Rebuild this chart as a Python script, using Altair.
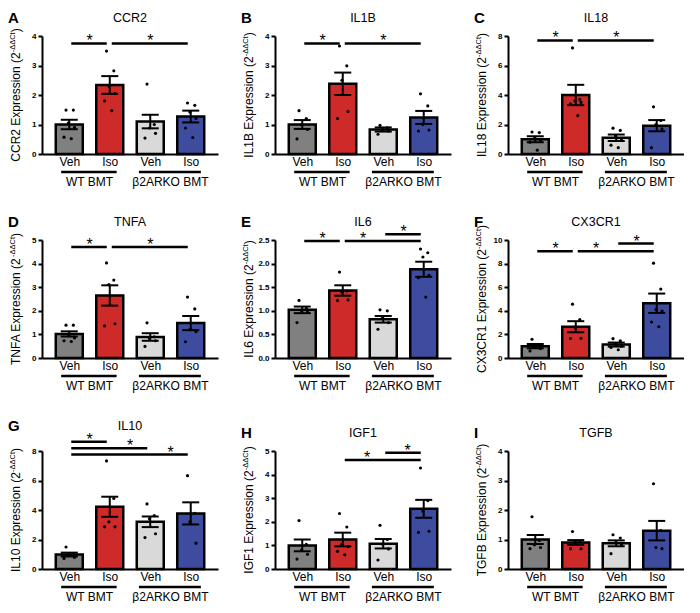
import altair as alt
import pandas as pd
import numpy as np

FONT = "Liberation Sans"

letters = ["A", "B", "C", "D", "E", "F", "G", "H", "I"]
genes = ["CCR2", "IL1B", "IL18", "TNFA", "IL6", "CX3CR1", "IL10", "IGF1", "TGFB"]
x_labels = ["Veh", "Iso", "Veh", "Iso"]
group_labels = ["WT BMT", "β2ARKO BMT"]
bar_colors = ["#808080", "#cf2a2a", "#d9d9d9", "#3e4c9f"]

y_max = {"CCR2": 4, "IL1B": 4, "IL18": 8, "TNFA": 5, "IL6": 2.5,
         "CX3CR1": 10, "IL10": 8, "IGF1": 5, "TGFB": 4}
y_step = {"CCR2": 1, "IL1B": 1, "IL18": 2, "TNFA": 1, "IL6": 0.5,
          "CX3CR1": 2, "IL10": 2, "IGF1": 1, "TGFB": 1}

means = {
    "CCR2": [1.0, 2.34, 1.1, 1.27],
    "IL1B": [1.0, 2.38, 0.83, 1.24],
    "IL18": [1.0, 4.0, 1.1, 1.92],
    "TNFA": [1.02, 2.65, 0.89, 1.48],
    "IL6": [1.02, 1.43, 0.82, 1.88],
    "CX3CR1": [1.0, 2.65, 1.14, 4.64],
    "IL10": [0.98, 4.22, 3.2, 3.77],
    "IGF1": [1.0, 1.25, 1.07, 2.55],
    "TGFB": [1.0, 0.9, 0.87, 1.3],
}
sems = {
    "CCR2": [0.16, 0.3, 0.23, 0.2],
    "IL1B": [0.15, 0.38, 0.07, 0.22],
    "IL18": [0.21, 0.69, 0.22, 0.38],
    "TNFA": [0.11, 0.43, 0.16, 0.3],
    "IL6": [0.07, 0.11, 0.07, 0.16],
    "CX3CR1": [0.18, 0.47, 0.17, 0.82],
    "IL10": [0.13, 0.68, 0.36, 0.75],
    "IGF1": [0.25, 0.29, 0.2, 0.38],
    "TGFB": [0.15, 0.08, 0.1, 0.33],
}
points = {
    "CCR2": [[1.49, 1.49, 1.05, 0.9, 0.57, 0.52], [3.49, 2.82, 2.3, 2.05, 1.8, 1.47],
             [2.37, 1.0, 0.88, 0.7, 0.54], [1.73, 1.65, 1.42, 1.2, 0.88, 0.56]],
    "IL1B": [[1.47, 1.2, 1.0, 0.83, 0.51], [3.66, 2.99, 2.5, 1.44, 1.2],
             [0.97, 0.89, 0.82, 0.78, 0.67], [2.04, 1.63, 1.0, 0.81, 0.78]],
    "IL18": [[1.49, 1.45, 1.07, 0.9, 0.8, 0.26], [7.19, 3.7, 3.6, 3.5, 3.4, 2.6],
             [1.75, 1.6, 1.24, 0.95, 0.6, 0.43], [3.2, 2.27, 2.0, 1.7, 0.43]],
    "TNFA": [[1.39, 1.39, 1.0, 0.85, 0.73, 0.7], [4.03, 3.3, 3.11, 1.45, 1.36],
             [1.49, 0.9, 0.83, 0.73, 0.49], [2.58, 2.08, 1.2, 1.12, 0.69]],
    "IL6": [[1.22, 1.05, 1.0, 0.98, 0.75], [1.82, 1.42, 1.4, 1.23, 1.22],
            [1.02, 1.0, 0.85, 0.75, 0.61], [2.31, 2.23, 2.14, 1.75, 1.7, 1.29]],
    "CX3CR1": [[1.59, 1.1, 0.95, 0.8, 0.6], [4.56, 3.26, 2.6, 1.67, 1.65],
               [1.64, 1.46, 1.2, 1.0, 0.9, 0.7], [8.04, 5.84, 4.11, 3.98, 3.05, 2.65]],
    "IL10": [[1.49, 1.0, 0.9, 0.79, 0.72], [7.33, 4.78, 3.2, 2.86, 2.86],
             [4.41, 3.62, 3.4, 2.39, 2.13], [6.33, 3.77, 3.2, 1.75]],
    "IGF1": [[2.05, 1.05, 0.8, 0.62, 0.42], [2.35, 1.78, 1.05, 0.95, 0.75, 0.6],
             [1.85, 1.25, 1.05, 0.85, 0.38], [4.28, 2.9, 2.45, 1.6, 1.55]],
    "TGFB": [[1.77, 0.97, 0.82, 0.73, 0.69], [1.27, 0.92, 0.9, 0.69, 0.69],
             [1.16, 1.05, 0.89, 0.82, 0.52], [2.89, 1.3, 0.73, 0.69]],
}
# significance bars: from bar, to bar, height, star position
sig_from = {"CCR2": [0, 1], "IL1B": [0, 1], "IL18": [0, 1], "TNFA": [0, 1],
            "IL6": [0, 1, 2], "CX3CR1": [0, 1, 2], "IL10": [0, 0, 0], "IGF1": [1, 2], "TGFB": []}
sig_to = {"CCR2": [1, 3], "IL1B": [1, 3], "IL18": [1, 3], "TNFA": [1, 3],
          "IL6": [1, 3, 3], "CX3CR1": [1, 3, 3], "IL10": [1, 2, 3], "IGF1": [3, 3], "TGFB": []}
sig_y = {"CCR2": [3.75, 3.75], "IL1B": [3.75, 3.75], "IL18": [7.7, 7.7], "TNFA": [4.7, 4.7],
         "IL6": [2.48, 2.48, 2.62], "CX3CR1": [9.05, 9.05, 9.7], "IL10": [8.62, 8.18, 7.76],
         "IGF1": [4.62, 4.93], "TGFB": []}
star_x = {"CCR2": [0.5, 2.0], "IL1B": [0.5, 2.0], "IL18": [0.5, 2.0], "TNFA": [0.5, 2.0],
          "IL6": [0.5, 1.5, 2.5], "CX3CR1": [0.5, 1.5, 2.5], "IL10": [0.5, 1.5, 2.5],
          "IGF1": [1.6, 2.6], "TGFB": []}

JITTER = [-0.08, 0.1, -0.02, 0.13, -0.13, 0.05, -0.05]

# Arial / Liberation Sans advance widths (per 1000 em) for the y-title layout
CHAR_W = {" ": 278, "(": 333, ")": 333, "-": 333, "A": 667, "B": 667, "C": 722, "E": 667,
          "F": 611, "G": 778, "I": 278, "L": 556, "N": 722, "R": 722, "T": 611, "X": 667,
          "e": 556, "i": 222, "n": 556, "o": 556, "p": 556, "r": 333, "s": 500, "x": 500,
          "t": 278, "Δ": 667}


def text_width(s, size):
    return sum(CHAR_W.get(c, 556) for c in s) * size / 1000.0


W, H = 176, 118
XSCALE = alt.Scale(domain=[-0.55, 3.55], nice=False, zero=False)
XAXIS = alt.Axis(values=[0, 1, 2, 3], labelExpr=f"{x_labels}[datum.value]",
                 ticks=False, tickSize=0, labelPadding=2, labelFontSize=12,
                 grid=False, domainWidth=2, domainColor="black",
                 labelColor="black", labelFont=FONT, title=None)


def panel(idx):
    gene = genes[idx]
    ysc = alt.Scale(domain=[0, y_max[gene]], nice=False)
    ticks = [float(v) for v in np.arange(0, y_max[gene] + 1e-9, y_step[gene])]
    fmt = ".1f" if y_step[gene] < 1 else "d"
    yaxis = alt.Axis(values=ticks, format=fmt, tickSize=4, tickWidth=2,
                     tickColor="black", domainWidth=2, domainColor="black",
                     labelFontSize=8, labelFontWeight="bold", labelPadding=2,
                     labelColor="black", grid=False, labelFont=FONT, title=None)

    bars = pd.DataFrame({"x": [0, 1, 2, 3], "mean": means[gene], "sem": sems[gene],
                         "color": bar_colors})
    bars["lo"] = bars["mean"] - bars["sem"]
    bars["hi"] = bars["mean"] + bars["sem"]

    rows = []
    for g, vals in enumerate(points[gene]):
        for k, v in enumerate(vals):
            rows.append({"xj": g + JITTER[k % len(JITTER)], "v": v})
    pts = pd.DataFrame(rows)

    def X(f):
        return alt.X(f, type="quantitative", scale=XSCALE, axis=XAXIS, title=None)

    def Y(f):
        return alt.Y(f, type="quantitative", scale=ysc, axis=yaxis, title=None)

    bar_layer = alt.Chart(bars).mark_bar(width=27, stroke="black", strokeWidth=2.5).encode(
        x=X("x"), y=Y("mean"), color=alt.Color("color:N", scale=None))
    pts_layer = alt.Chart(pts).mark_circle(size=10, color="black", opacity=1).encode(
        x=X("xj"), y=Y("v"))
    err = alt.Chart(bars).mark_rule(strokeWidth=2, color="black").encode(
        x=X("x"), y=Y("lo"), y2="hi:Q")
    cap_hi = alt.Chart(bars).mark_tick(orient="horizontal", thickness=2, color="black",
                                       opacity=1).encode(x=X("x"), y=Y("hi"), size=alt.value(17))
    cap_lo = alt.Chart(bars).mark_tick(orient="horizontal", thickness=2, color="black",
                                       opacity=1).encode(x=X("x"), y=Y("lo"), size=alt.value(17))

    layers = [bar_layer, pts_layer, err, cap_hi, cap_lo]

    title_y = -18
    if sig_y[gene] and max(sig_y[gene]) > y_max[gene] * 1.05:
        title_y = -25

    if sig_from[gene]:
        sig = pd.DataFrame({"x1": sig_from[gene], "x2": sig_to[gene], "y": sig_y[gene],
                            "sx": star_x[gene]})
        layers.append(alt.Chart(sig).mark_rule(strokeWidth=2.5, color="black", xOffset=2,
                                               x2Offset=-3).encode(
            x=X("x1"), x2="x2:Q", y=Y("y")))
        layers.append(alt.Chart(sig).mark_text(text="*", fontSize=16, dy=3,
                                               baseline="alphabetic", font=FONT).encode(
            x=X("sx"), y=Y("y")))

    grp = pd.DataFrame({"gx1": [-0.2, 1.72], "gx2": [1.17, 3.25], "gc": [0.5, 2.5],
                        "label": group_labels})
    layers.append(alt.Chart(grp).mark_rule(strokeWidth=2.5, color="black").encode(
        x=X("gx1"), x2="gx2:Q", y=alt.value(H + 18)))
    layers.append(alt.Chart(grp).mark_text(fontSize=12, baseline="middle", font=FONT).encode(
        x=X("gc"), y=alt.value(H + 28), text="label:N"))

    # panel title and letter
    layers.append(alt.Chart(pd.DataFrame({"t": [gene]})).mark_text(
        fontSize=12.5, baseline="middle", font=FONT).encode(
        x=alt.value(W / 2), y=alt.value(title_y), text="t:N"))
    layers.append(alt.Chart(pd.DataFrame({"t": [letters[idx]]})).mark_text(
        fontSize=15, fontWeight="bold", align="left", baseline="middle", font=FONT).encode(
        x=alt.value(-34), y=alt.value(title_y), text="t:N"))

    # y-axis title with superscript
    main = f"{gene} Expression (2"
    sup = "-ΔΔCt"
    TS, SS = 12, 7.5
    wm, ws, wp = text_width(main, TS), text_width(sup, SS), text_width(")", TS)
    y0 = H / 2 + (wm + ws + wp) / 2
    for txt, xv, yv, fs in [(main, -22, y0, TS), (sup, -27, y0 - wm, SS),
                            (")", -22, y0 - wm - ws, TS)]:
        layers.append(alt.Chart(pd.DataFrame({"t": [txt]})).mark_text(
            angle=270, align="left", baseline="alphabetic", fontSize=fs, font=FONT).encode(
            x=alt.value(xv), y=alt.value(yv), text="t:N"))

    return alt.layer(*layers).properties(width=W, height=H)


panels = [panel(i) for i in range(9)]
rows = [alt.hconcat(*panels[r * 3:(r + 1) * 3], spacing=23) for r in range(3)]
chart = alt.vconcat(*rows, spacing=27).properties(
    padding={"top": 3, "left": 0, "right": 0, "bottom": 0}).configure_view(
    stroke=None).configure_text(font=FONT, color="black")

chart.save("out.html", embed_options={"renderer": "svg", "actions": False})
